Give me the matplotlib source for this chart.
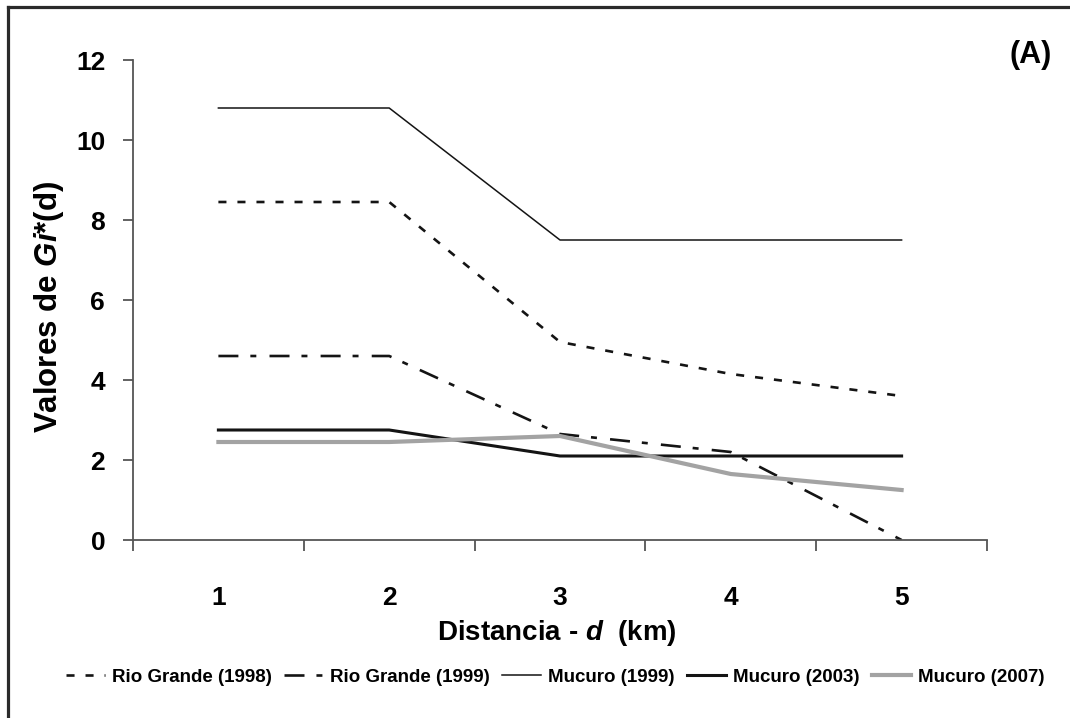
import matplotlib
matplotlib.use("Agg")
import matplotlib.pyplot as plt
from matplotlib.lines import Line2D

plt.rcParams['font.family'] = ['Liberation Sans', 'DejaVu Sans']
plt.rcParams['mathtext.fontset'] = 'custom'
plt.rcParams['mathtext.it'] = 'Liberation Sans:bold:italic'
plt.rcParams['mathtext.rm'] = 'Liberation Sans:bold'
plt.rcParams['lines.scale_dashes'] = False

categories = ["1", "2", "3", "4", "5"]
rio_grande_1998 = [8.45, 8.45, 4.95, 4.15, 3.6]
rio_grande_1999 = [4.6, 4.6, 2.65, 2.2, 0.0]
mucuro_1999 = [10.8, 10.8, 7.5, 7.5, 7.5]
mucuro_2003 = [2.75, 2.75, 2.1, 2.1, 2.1]
mucuro_2007 = [2.45, 2.45, 2.6, 1.65, 1.25]
y_ticks = [0, 2, 4, 6, 8, 10, 12]

fig = plt.figure(figsize=(10.7, 7.18), dpi=100)
ax = fig.add_axes([133/1070, 1-540/718, (987-133)/1070, (540-60)/718])

x = list(range(len(categories)))
ink = '#141414'
ax.plot(x, rio_grande_1998, color=ink, lw=1.9, linestyle=(0, (5.8, 7.9)),
        label='Rio Grande (1998)', dash_capstyle='butt')
ax.plot(x, rio_grande_1999, color=ink, lw=1.9, linestyle=(0, (14.4, 8.6, 4.3, 9.5)),
        label='Rio Grande (1999)', dash_capstyle='butt')
ax.plot(x, mucuro_1999, color=ink, lw=1.1, label='Mucuro (1999)')
ax.plot(x, mucuro_2003, color=ink, lw=2.2, label='Mucuro (2003)')
ax.plot(x, mucuro_2007, color='#a3a3a3', lw=3.0, label='Mucuro (2007)')

ax.set_xlim(-0.5, len(categories) - 0.5)
ax.set_ylim(0, 12)
ax.set_xticks(x)
ax.set_xticklabels(categories, fontsize=19, fontweight='bold')
ax.set_xticks([i - 0.5 for i in range(len(categories) + 1)], minor=True)
ax.tick_params(axis='x', which='major', length=0, pad=33)
ax.tick_params(axis='x', which='minor', length=8, width=1.3, color='#555555', direction='out')
ax.set_yticks(y_ticks)
ax.set_yticklabels([str(v) for v in y_ticks], fontsize=19, fontweight='bold')
ax.tick_params(axis='y', length=7, width=1.3, color='#555555', direction='out', pad=13)

for s in ['top', 'right']:
    ax.spines[s].set_visible(False)
for s in ['left', 'bottom']:
    ax.spines[s].set_color('#555555')
    ax.spines[s].set_linewidth(1.3)

fig.text(557/1070, 1-633/718, r'Distancia - $d$  (km)', fontsize=20, fontweight='bold',
         ha='center', va='center')
fig.text(49/1070, 1-307/718, r'Valores de $Gi$*(d)', fontsize=22.5, fontweight='bold',
         ha='center', va='center', rotation=90)
fig.text(1031/1070, 1-55/718, '(A)', fontsize=22, fontweight='bold', ha='center', va='center')

handles, labels = ax.get_legend_handles_labels()
fig.legend(handles, labels, loc='center', bbox_to_anchor=(555/1070, 1-677/718), ncol=5,
           frameon=False, prop={'weight': 'bold', 'size': 13.5}, handlelength=2.1,
           handletextpad=0.37, columnspacing=0.64)

# figure border (top and left)
fig.add_artist(Line2D([8/1070, 1.0], [1-7/718, 1-7/718], transform=fig.transFigure,
                      color='#2a2a2a', lw=2.3))
fig.add_artist(Line2D([8/1070, 8/1070], [0, 1-7/718], transform=fig.transFigure,
                      color='#2a2a2a', lw=2.3))

fig.savefig('out.png', dpi=100)
